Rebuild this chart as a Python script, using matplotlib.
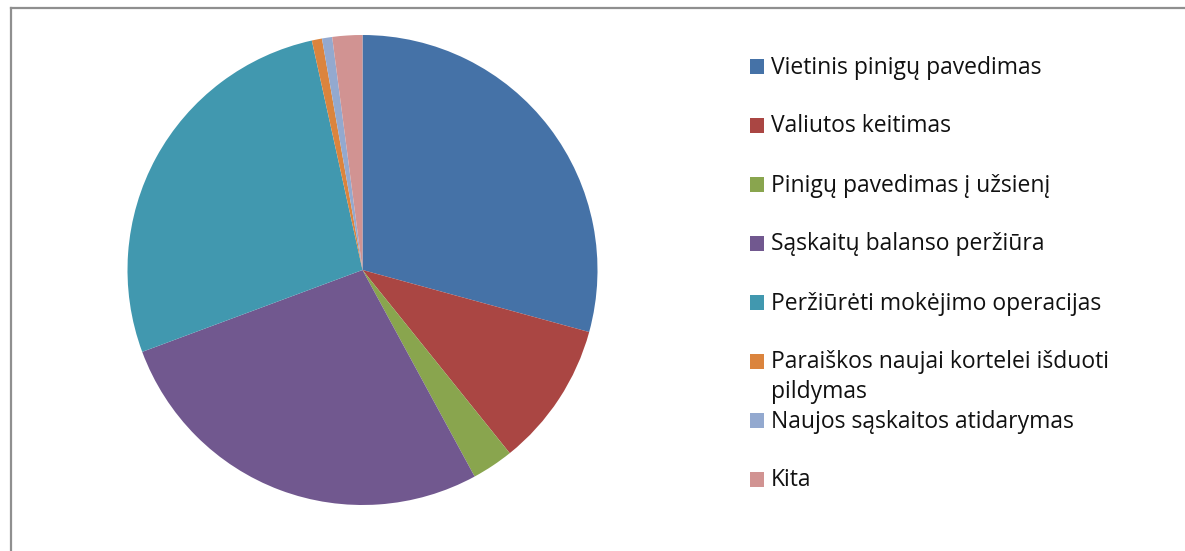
import matplotlib
matplotlib.use("Agg")
import matplotlib.pyplot as plt
from matplotlib.lines import Line2D
from matplotlib.patches import Rectangle

labels = [
    "Vietinis pinigų pavedimas",
    "Valiutos keitimas",
    "Pinigų pavedimas į užsienį",
    "Sąskaitų balanso peržiūra",
    "Peržiūrėti mokėjimo operacijas",
    "Paraiškos naujai kortelei išduoti\npildymas",
    "Naujos sąskaitos atidarymas",
    "Kita",
]
values = [29.25, 9.97, 2.86, 27.25, 27.2, 0.7, 0.7, 2.06]
colors = ["#4572A7", "#AA4643", "#89A54E", "#71588F",
          "#4198AF", "#DB843D", "#93A9CF", "#D19392"]

W, H = 1185, 551
fig = plt.figure(figsize=(W / 100, H / 100), dpi=100)
fig.patch.set_facecolor("white")

# pie axes: center (362,270), radius 235 px
cx, cy, r = 362.5, 270, 235
ax = fig.add_axes([(cx - r) / W, (H - cy - r) / H, 2 * r / W, 2 * r / H])
ax.pie(values, colors=colors, startangle=90, counterclock=False,
       radius=1.0, wedgeprops=dict(linewidth=0))
ax.set_xlim(-1, 1)
ax.set_ylim(-1, 1)
ax.set_aspect("equal")
ax.axis("off")

# frame (top and left visible)
fig.add_artist(Line2D([10.5 / W, 10.5 / W], [0, 1 - 7.5 / H], transform=fig.transFigure,
                      color="#8f8f8f", linewidth=1.6))
fig.add_artist(Line2D([10.5 / W, 1.0], [1 - 7.5 / H, 1 - 7.5 / H], transform=fig.transFigure,
                      color="#8f8f8f", linewidth=1.6))

# legend
x_box, box = 749.5, 14.5
x_text = 771
base0, step, line_pitch = 73.5, 59, 29
for i, (lab, col) in enumerate(zip(labels, colors)):
    yb = base0 + step * i
    fig.add_artist(Rectangle((x_box / W, 1 - yb / H), box / W, box / H,
                             transform=fig.transFigure, facecolor=col, edgecolor="none"))
    for k, line in enumerate(lab.split("\n")):
        fig.text(x_text / W, 1 - (yb + k * line_pitch) / H, line, ha="left", va="baseline",
                 fontsize=16.5, family=["Open Sans", "DejaVu Sans"], color="#111111")

fig.savefig("out.png", dpi=100, facecolor="white")
